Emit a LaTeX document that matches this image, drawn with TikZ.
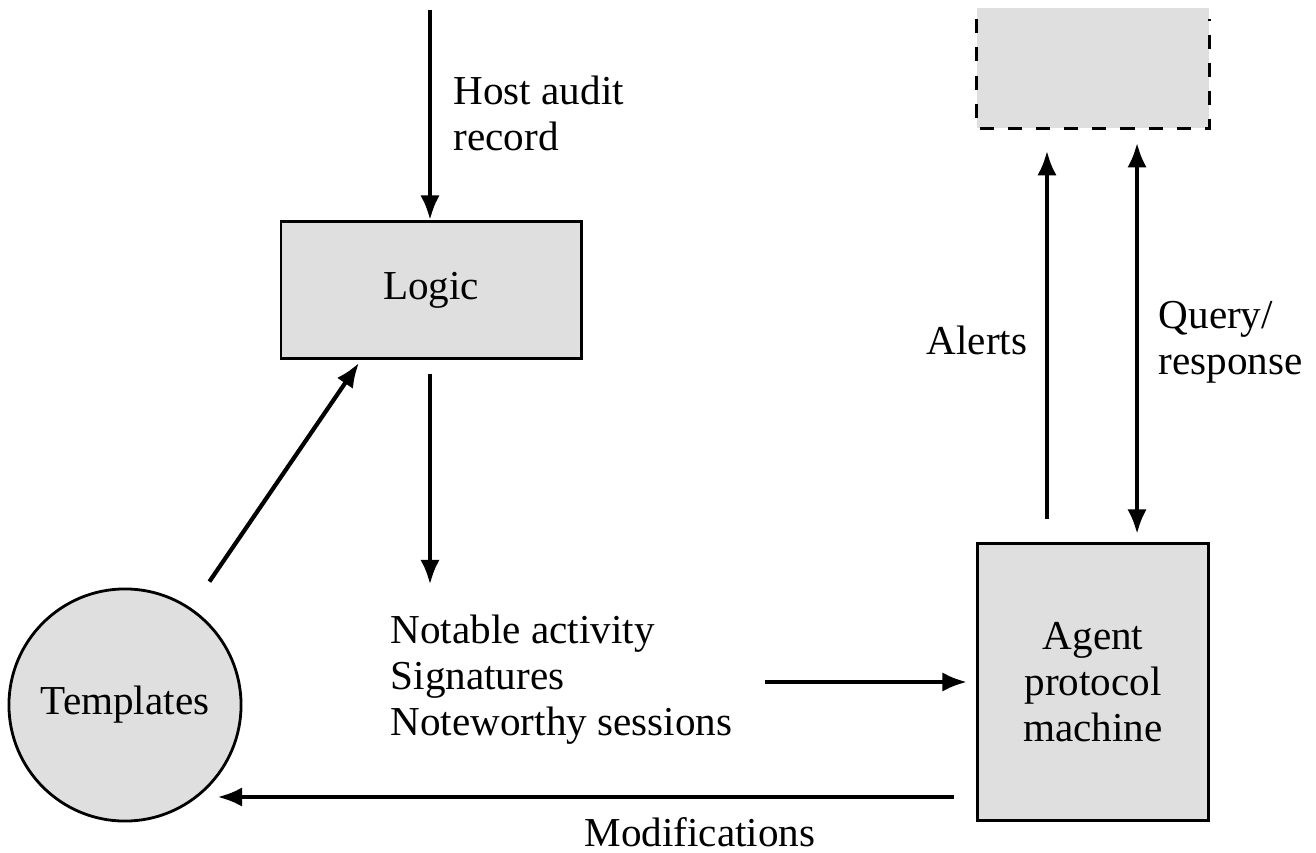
\documentclass[tikz,border=0pt]{standalone}
\usepackage{fontspec}
\setmainfont{Liberation Serif}
\usetikzlibrary{positioning, arrows.meta, calc}

\begin{document}
\begin{tikzpicture}[
  x=0.01cm, y=-0.01cm,
  box/.style={draw, line width=0.8pt, fill=gray!25, minimum width=#1, align=center},
  box/.default=3cm,
  lbl/.style={align=left, inner sep=0pt},
  arr/.style={-{Latex[length=7pt, width=5.5pt]}, line width=1.2pt},
  every node/.style={font=\fontsize{11.7}{13.1}\selectfont},
]
\useasboundingbox (0,0) rectangle (1316,852);

% === HOST INPUT ===
\coordinate (audit_in) at (430,10);
\node[box, minimum height=1.37cm] (logic) at (431,290) {Logic};
\node[lbl, anchor=north west] (audit_lbl) at (453,75) {Host audit\\record};
\draw[arr] (audit_in) -- (logic.north -| audit_in);

% === TEMPLATES ===
\node[draw, circle, line width=0.8pt, fill=gray!25, minimum size=2.32cm, inner sep=0pt] (tmpl) at (125,705) {Templates};
\draw[arr, shorten <=0.32cm, shorten >=1pt] (tmpl) -- ([xshift=-0.7cm]logic.south);

% === OUTPUT OF LOGIC ===
\node[lbl, anchor=west] (notable) at (390,680) {Notable activity\\Signatures\\Noteworthy sessions};
\draw[arr, shorten <=0.14cm, shorten >=0.3cm] (logic.south -| audit_in) -- (notable.north -| audit_in);

% === AGENT ===
\node[box=2.31cm, minimum height=2.77cm] (agent) at (1093,682) {Agent\\protocol\\machine};
\draw[arr, shorten <=0.32cm, shorten >=0.09cm] (notable.east |- agent.west) -- (agent.west);

% === CENTRAL MANAGER (dashed) ===
\node[fill=gray!25, minimum width=2.31cm, minimum height=1.2cm] (console) at (1093,68) {};
\draw[dashed, dash pattern=on 4pt off 4pt, line width=0.9pt]
  ([yshift=-0.12cm]console.north west) -- (console.south west) -- (console.south east) -- ([yshift=-0.12cm]console.north east);

\draw[arr, shorten <=0.23cm, shorten >=0.22cm] ([xshift=-0.46cm]agent.north) -- ([xshift=-0.46cm]console.south);
\draw[arr, {Latex[length=7pt, width=5.5pt]}-{Latex[length=7pt, width=5.5pt]}, shorten <=0.14cm, shorten >=0.08cm]
  ([xshift=0.44cm]console.south) -- ([xshift=0.44cm]agent.north);

\node[lbl, anchor=east] (alerts_lbl) at (1028,340) {Alerts};
\node[lbl, anchor=west] (query_lbl) at (1158,342) {Query/\\response};

% === FEEDBACK ===
\coordinate (mod_row) at (0,797);
\draw[arr, shorten <=0.22cm, shorten >=-0.25cm] (agent.west |- mod_row) -- (tmpl.east |- mod_row);
\node[inner sep=0pt] (mod_lbl) at (700,832) {Modifications};

\end{tikzpicture}
\end{document}
